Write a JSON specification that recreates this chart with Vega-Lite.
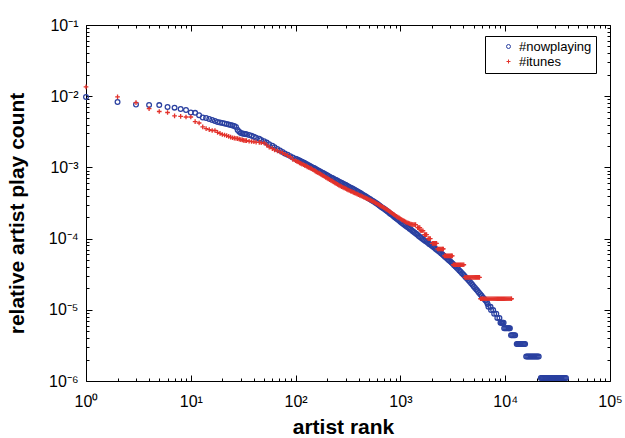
{
  "$schema": "https://vega.github.io/schema/vega-lite/v6.json",
  "autosize": {"type": "none"},
  "width": 524,
  "height": 356,
  "padding": {"left": 86, "top": 25, "right": 15, "bottom": 57},
  "background": "white",
  "config": {
    "view": {"stroke": "black", "strokeWidth": 1},
    "font": "Liberation Sans",
    "axis": {"grid": false, "domain": false, "tickColor": "black", "tickWidth": 1, "labelColor": "black", "labelFont": "Liberation Sans", "labelFontSize": 16, "titleColor": "black", "titleFont": "Liberation Sans", "titleFontSize": 21, "titleFontWeight": "bold", "labelOverlap": false, "labelFlush": false, "labelBound": false}
  },
  "datasets": {
    "pts": [
      {"series":"#nowplaying","rank":1,"share":0.00975},{"series":"#nowplaying","rank":2,"share":0.0083},{"series":"#nowplaying","rank":3,"share":0.00764},{"series":"#nowplaying","rank":4,"share":0.00752},{"series":"#nowplaying","rank":5,"share":0.0075},{"series":"#nowplaying","rank":6,"share":0.00705},{"series":"#nowplaying","rank":7,"share":0.0069},{"series":"#nowplaying","rank":8,"share":0.0066},{"series":"#nowplaying","rank":9,"share":0.0064},{"series":"#nowplaying","rank":10,"share":0.0059},
      {"series":"#nowplaying","rank":11,"share":0.00584},{"series":"#nowplaying","rank":12,"share":0.0054},{"series":"#nowplaying","rank":13,"share":0.00502},{"series":"#nowplaying","rank":14,"share":0.00495},{"series":"#nowplaying","rank":15,"share":0.00479},{"series":"#nowplaying","rank":16,"share":0.00464},{"series":"#nowplaying","rank":17,"share":0.0045},{"series":"#nowplaying","rank":18,"share":0.00435},{"series":"#nowplaying","rank":19,"share":0.00428},{"series":"#nowplaying","rank":20,"share":0.00421},
      {"series":"#nowplaying","rank":21,"share":0.00415},{"series":"#nowplaying","rank":22,"share":0.00408},{"series":"#nowplaying","rank":23,"share":0.00401},{"series":"#nowplaying","rank":24,"share":0.00395},{"series":"#nowplaying","rank":25,"share":0.00388},{"series":"#nowplaying","rank":26,"share":0.00382},{"series":"#nowplaying","rank":27,"share":0.0037},{"series":"#nowplaying","rank":28,"share":0.00335},{"series":"#nowplaying","rank":29,"share":0.00318},{"series":"#nowplaying","rank":30,"share":0.00304},
      {"series":"#nowplaying","rank":31,"share":0.003},{"series":"#nowplaying","rank":32,"share":0.00297},{"series":"#nowplaying","rank":33,"share":0.00294},
      {"series":"#nowplaying","rank":34,"share":0.00292},{"series":"#nowplaying","rank":36,"share":0.00285},{"series":"#nowplaying","rank":38,"share":0.00278},{"series":"#nowplaying","rank":40,"share":0.0027},{"series":"#nowplaying","rank":42,"share":0.00261},{"series":"#nowplaying","rank":45,"share":0.00252},{"series":"#nowplaying","rank":47,"share":0.00243},{"series":"#nowplaying","rank":50,"share":0.00233},{"series":"#nowplaying","rank":53,"share":0.00223},{"series":"#nowplaying","rank":56,"share":0.00212},
      {"series":"#nowplaying","rank":60,"share":0.00202},{"series":"#nowplaying","rank":63,"share":0.00192},{"series":"#nowplaying","rank":67,"share":0.00182},{"series":"#nowplaying","rank":71,"share":0.00173},{"series":"#nowplaying","rank":75,"share":0.00165},{"series":"#nowplaying","rank":79,"share":0.00157},{"series":"#nowplaying","rank":84,"share":0.0015},{"series":"#nowplaying","rank":89,"share":0.00144},{"series":"#nowplaying","rank":94,"share":0.00138},{"series":"#nowplaying","rank":100,"share":0.00132},
      {"series":"#nowplaying","rank":106,"share":0.00127},{"series":"#nowplaying","rank":112,"share":0.00122},{"series":"#nowplaying","rank":119,"share":0.00117},{"series":"#nowplaying","rank":126,"share":0.00112},{"series":"#nowplaying","rank":133,"share":0.00107},{"series":"#nowplaying","rank":141,"share":0.00102},{"series":"#nowplaying","rank":150,"share":0.000977},{"series":"#nowplaying","rank":158,"share":0.000933},{"series":"#nowplaying","rank":168,"share":0.000891},{"series":"#nowplaying","rank":178,"share":0.000851},
      {"series":"#nowplaying","rank":188,"share":0.000813},{"series":"#nowplaying","rank":200,"share":0.000776},{"series":"#nowplaying","rank":211,"share":0.000741},{"series":"#nowplaying","rank":224,"share":0.000708},{"series":"#nowplaying","rank":237,"share":0.000678},{"series":"#nowplaying","rank":251,"share":0.000649},{"series":"#nowplaying","rank":266,"share":0.000621},{"series":"#nowplaying","rank":282,"share":0.000594},{"series":"#nowplaying","rank":299,"share":0.000569},{"series":"#nowplaying","rank":316,"share":0.000545},
      {"series":"#nowplaying","rank":335,"share":0.00052},{"series":"#nowplaying","rank":355,"share":0.000497},{"series":"#nowplaying","rank":376,"share":0.000473},{"series":"#nowplaying","rank":398,"share":0.000451},{"series":"#nowplaying","rank":422,"share":0.000429},{"series":"#nowplaying","rank":447,"share":0.000407},{"series":"#nowplaying","rank":473,"share":0.000386},{"series":"#nowplaying","rank":501,"share":0.000366},{"series":"#nowplaying","rank":531,"share":0.000347},{"series":"#nowplaying","rank":562,"share":0.000328},
      {"series":"#nowplaying","rank":596,"share":0.00031},{"series":"#nowplaying","rank":631,"share":0.000292},{"series":"#nowplaying","rank":668,"share":0.000274},{"series":"#nowplaying","rank":708,"share":0.000258},{"series":"#nowplaying","rank":750,"share":0.000242},{"series":"#nowplaying","rank":794,"share":0.000226},{"series":"#nowplaying","rank":841,"share":0.000212},{"series":"#nowplaying","rank":891,"share":0.000198},{"series":"#nowplaying","rank":944,"share":0.000185},{"series":"#nowplaying","rank":1000,"share":0.000173},
      {"series":"#nowplaying","rank":1059,"share":0.000162},{"series":"#nowplaying","rank":1122,"share":0.000152},{"series":"#nowplaying","rank":1189,"share":0.000143},{"series":"#nowplaying","rank":1259,"share":0.000134},{"series":"#nowplaying","rank":1334,"share":0.000125},{"series":"#nowplaying","rank":1413,"share":0.000117},{"series":"#nowplaying","rank":1496,"share":0.000109},{"series":"#nowplaying","rank":1585,"share":0.000102},{"series":"#nowplaying","rank":1679,"share":0.0000959},{"series":"#nowplaying","rank":1778,"share":0.00009},
      {"series":"#nowplaying","rank":1884,"share":0.0000843},{"series":"#nowplaying","rank":1995,"share":0.0000791},{"series":"#nowplaying","rank":2113,"share":0.0000741},{"series":"#nowplaying","rank":2239,"share":0.0000692},{"series":"#nowplaying","rank":2371,"share":0.0000646},{"series":"#nowplaying","rank":2512,"share":0.0000601},{"series":"#nowplaying","rank":2661,"share":0.0000558},{"series":"#nowplaying","rank":2818,"share":0.0000518},{"series":"#nowplaying","rank":2985,"share":0.0000479},{"series":"#nowplaying","rank":3162,"share":0.0000442},
      {"series":"#nowplaying","rank":3350,"share":0.0000406},{"series":"#nowplaying","rank":3548,"share":0.0000373},{"series":"#nowplaying","rank":3758,"share":0.0000342},{"series":"#nowplaying","rank":3981,"share":0.0000313},{"series":"#nowplaying","rank":4217,"share":0.0000285},{"series":"#nowplaying","rank":4467,"share":0.0000259},{"series":"#nowplaying","rank":4732,"share":0.0000236},{"series":"#nowplaying","rank":5012,"share":0.0000213},{"series":"#nowplaying","rank":5309,"share":0.0000193},{"series":"#nowplaying","rank":5623,"share":0.0000174},
      {"series":"#nowplaying","rank":5957,"share":0.0000157},{"series":"#nowplaying","rank":6310,"share":0.0000142},{"series":"#nowplaying","rank":6683,"share":0.0000129},
      {"series":"#nowplaying","rank":103,"share":0.0013},{"series":"#nowplaying","rank":109,"share":0.00125},{"series":"#nowplaying","rank":115,"share":0.0012},{"series":"#nowplaying","rank":122,"share":0.00115},{"series":"#nowplaying","rank":129,"share":0.0011},{"series":"#nowplaying","rank":137,"share":0.00105},{"series":"#nowplaying","rank":145,"share":0.000999},{"series":"#nowplaying","rank":154,"share":0.000955},{"series":"#nowplaying","rank":163,"share":0.000912},{"series":"#nowplaying","rank":173,"share":0.000871},
      {"series":"#nowplaying","rank":183,"share":0.000832},{"series":"#nowplaying","rank":194,"share":0.000794},{"series":"#nowplaying","rank":205,"share":0.000758},{"series":"#nowplaying","rank":217,"share":0.000724},{"series":"#nowplaying","rank":230,"share":0.000693},{"series":"#nowplaying","rank":244,"share":0.000663},{"series":"#nowplaying","rank":258,"share":0.000635},{"series":"#nowplaying","rank":274,"share":0.000607},{"series":"#nowplaying","rank":290,"share":0.000581},{"series":"#nowplaying","rank":307,"share":0.000557},
      {"series":"#nowplaying","rank":325,"share":0.000532},{"series":"#nowplaying","rank":345,"share":0.000508},{"series":"#nowplaying","rank":365,"share":0.000485},{"series":"#nowplaying","rank":387,"share":0.000462},{"series":"#nowplaying","rank":410,"share":0.00044},{"series":"#nowplaying","rank":434,"share":0.000418},{"series":"#nowplaying","rank":460,"share":0.000396},{"series":"#nowplaying","rank":487,"share":0.000376},{"series":"#nowplaying","rank":516,"share":0.000356},{"series":"#nowplaying","rank":546,"share":0.000337},
      {"series":"#nowplaying","rank":579,"share":0.000319},{"series":"#nowplaying","rank":613,"share":0.000301},{"series":"#nowplaying","rank":649,"share":0.000283},{"series":"#nowplaying","rank":688,"share":0.000266},{"series":"#nowplaying","rank":729,"share":0.00025},{"series":"#nowplaying","rank":772,"share":0.000234},{"series":"#nowplaying","rank":817,"share":0.000219},{"series":"#nowplaying","rank":866,"share":0.000205},{"series":"#nowplaying","rank":917,"share":0.000191},{"series":"#nowplaying","rank":972,"share":0.000179},
      {"series":"#nowplaying","rank":1029,"share":0.000167},{"series":"#nowplaying","rank":1090,"share":0.000157},{"series":"#nowplaying","rank":1155,"share":0.000147},{"series":"#nowplaying","rank":1223,"share":0.000138},{"series":"#nowplaying","rank":1296,"share":0.000129},{"series":"#nowplaying","rank":1373,"share":0.000121},{"series":"#nowplaying","rank":1454,"share":0.000113},{"series":"#nowplaying","rank":1540,"share":0.000105},{"series":"#nowplaying","rank":1631,"share":0.0000989},{"series":"#nowplaying","rank":1728,"share":0.0000929},
      {"series":"#nowplaying","rank":1830,"share":0.0000871},{"series":"#nowplaying","rank":1939,"share":0.0000817},{"series":"#nowplaying","rank":2053,"share":0.0000766},{"series":"#nowplaying","rank":2175,"share":0.0000716},{"series":"#nowplaying","rank":2304,"share":0.0000669},{"series":"#nowplaying","rank":2440,"share":0.0000623},{"series":"#nowplaying","rank":2585,"share":0.0000579},{"series":"#nowplaying","rank":2738,"share":0.0000538},{"series":"#nowplaying","rank":2901,"share":0.0000498},{"series":"#nowplaying","rank":3072,"share":0.000046},
      {"series":"#nowplaying","rank":3255,"share":0.0000424},{"series":"#nowplaying","rank":3448,"share":0.0000389},{"series":"#nowplaying","rank":3652,"share":0.0000357},{"series":"#nowplaying","rank":3868,"share":0.0000327},{"series":"#nowplaying","rank":4097,"share":0.0000299},{"series":"#nowplaying","rank":4340,"share":0.0000272},{"series":"#nowplaying","rank":4598,"share":0.0000247},{"series":"#nowplaying","rank":4870,"share":0.0000224},{"series":"#nowplaying","rank":5158,"share":0.0000203},{"series":"#nowplaying","rank":5464,"share":0.0000183},
      {"series":"#nowplaying","rank":5788,"share":0.0000165},{"series":"#nowplaying","rank":6131,"share":0.0000149},{"series":"#nowplaying","rank":6494,"share":0.0000135},{"series":"#nowplaying","rank":6800,"share":0.0000121},
      {"series":"#nowplaying","rank":6918,"share":0.000011},{"series":"#nowplaying","rank":7244,"share":0.000011},
      {"series":"#nowplaying","rank":7328,"share":0.0000099},{"series":"#nowplaying","rank":7674,"share":0.0000099},
      {"series":"#nowplaying","rank":7852,"share":0.0000088},{"series":"#nowplaying","rank":8222,"share":0.0000088},
      {"series":"#nowplaying","rank":8414,"share":0.0000077},{"series":"#nowplaying","rank":8810,"share":0.0000077},
      {"series":"#nowplaying","rank":9016,"share":0.0000066},{"series":"#nowplaying","rank":9162,"share":0.0000066},{"series":"#nowplaying","rank":9333,"share":0.0000066},{"series":"#nowplaying","rank":9484,"share":0.0000066},{"series":"#nowplaying","rank":9660,"share":0.0000066},
      {"series":"#nowplaying","rank":9772,"share":0.0000055},{"series":"#nowplaying","rank":10000,"share":0.0000055},{"series":"#nowplaying","rank":10233,"share":0.0000055},{"series":"#nowplaying","rank":10471,"share":0.0000055},{"series":"#nowplaying","rank":10715,"share":0.0000055},{"series":"#nowplaying","rank":10889,"share":0.0000055},{"series":"#nowplaying","rank":11092,"share":0.0000055},
      {"series":"#nowplaying","rank":11350,"share":0.0000044},{"series":"#nowplaying","rank":11614,"share":0.0000044},{"series":"#nowplaying","rank":11885,"share":0.0000044},{"series":"#nowplaying","rank":12162,"share":0.0000044},{"series":"#nowplaying","rank":12445,"share":0.0000044},
      {"series":"#nowplaying","rank":12882,"share":0.0000033},{"series":"#nowplaying","rank":13183,"share":0.0000033},{"series":"#nowplaying","rank":13490,"share":0.0000033},{"series":"#nowplaying","rank":13804,"share":0.0000033},{"series":"#nowplaying","rank":14125,"share":0.0000033},{"series":"#nowplaying","rank":14454,"share":0.0000033},{"series":"#nowplaying","rank":14791,"share":0.0000033},{"series":"#nowplaying","rank":15136,"share":0.0000033},{"series":"#nowplaying","rank":15488,"share":0.0000033},
      {"series":"#nowplaying","rank":15849,"share":0.0000022},{"series":"#nowplaying","rank":16218,"share":0.0000022},{"series":"#nowplaying","rank":16596,"share":0.0000022},{"series":"#nowplaying","rank":16982,"share":0.0000022},{"series":"#nowplaying","rank":17378,"share":0.0000022},{"series":"#nowplaying","rank":17783,"share":0.0000022},{"series":"#nowplaying","rank":18197,"share":0.0000022},{"series":"#nowplaying","rank":18621,"share":0.0000022},{"series":"#nowplaying","rank":19055,"share":0.0000022},{"series":"#nowplaying","rank":19498,"share":0.0000022},{"series":"#nowplaying","rank":19953,"share":0.0000022},{"series":"#nowplaying","rank":20417,"share":0.0000022},{"series":"#nowplaying","rank":20893,"share":0.0000022},
      {"series":"#nowplaying","rank":21878,"share":0.0000011},{"series":"#nowplaying","rank":22387,"share":0.0000011},{"series":"#nowplaying","rank":22909,"share":0.0000011},{"series":"#nowplaying","rank":23442,"share":0.0000011},{"series":"#nowplaying","rank":23988,"share":0.0000011},{"series":"#nowplaying","rank":24547,"share":0.0000011},{"series":"#nowplaying","rank":25119,"share":0.0000011},{"series":"#nowplaying","rank":25704,"share":0.0000011},{"series":"#nowplaying","rank":26303,"share":0.0000011},{"series":"#nowplaying","rank":26915,"share":0.0000011},{"series":"#nowplaying","rank":27542,"share":0.0000011},{"series":"#nowplaying","rank":28184,"share":0.0000011},{"series":"#nowplaying","rank":28840,"share":0.0000011},{"series":"#nowplaying","rank":29512,"share":0.0000011},{"series":"#nowplaying","rank":30200,"share":0.0000011},{"series":"#nowplaying","rank":30903,"share":0.0000011},{"series":"#nowplaying","rank":31623,"share":0.0000011},{"series":"#nowplaying","rank":32359,"share":0.0000011},{"series":"#nowplaying","rank":33113,"share":0.0000011},{"series":"#nowplaying","rank":33884,"share":0.0000011},{"series":"#nowplaying","rank":34674,"share":0.0000011},{"series":"#nowplaying","rank":35481,"share":0.0000011},{"series":"#nowplaying","rank":36308,"share":0.0000011},{"series":"#nowplaying","rank":37154,"share":0.0000011},{"series":"#nowplaying","rank":38019,"share":0.0000011},

      {"series":"#itunes","rank":1,"share":0.0135},{"series":"#itunes","rank":2,"share":0.0098},{"series":"#itunes","rank":3,"share":0.0081},{"series":"#itunes","rank":4,"share":0.0067},{"series":"#itunes","rank":5,"share":0.0061},{"series":"#itunes","rank":6,"share":0.0059},{"series":"#itunes","rank":7,"share":0.0053},{"series":"#itunes","rank":8,"share":0.0052},{"series":"#itunes","rank":9,"share":0.0051},{"series":"#itunes","rank":10,"share":0.0051},
      {"series":"#itunes","rank":11,"share":0.0044},{"series":"#itunes","rank":12,"share":0.0042},{"series":"#itunes","rank":13,"share":0.0037},{"series":"#itunes","rank":14,"share":0.0035},{"series":"#itunes","rank":15,"share":0.0034},{"series":"#itunes","rank":16,"share":0.0033},{"series":"#itunes","rank":17,"share":0.0033},{"series":"#itunes","rank":18,"share":0.0031},{"series":"#itunes","rank":19,"share":0.003},{"series":"#itunes","rank":20,"share":0.0029},
      {"series":"#itunes","rank":21,"share":0.00285},{"series":"#itunes","rank":22,"share":0.0028},{"series":"#itunes","rank":23,"share":0.00272},{"series":"#itunes","rank":24,"share":0.00266},{"series":"#itunes","rank":25,"share":0.00261},{"series":"#itunes","rank":26,"share":0.00258},{"series":"#itunes","rank":27,"share":0.00255},{"series":"#itunes","rank":28,"share":0.00253},{"series":"#itunes","rank":29,"share":0.0025},{"series":"#itunes","rank":30,"share":0.00245},
      {"series":"#itunes","rank":31,"share":0.00243},{"series":"#itunes","rank":32,"share":0.0024},{"series":"#itunes","rank":33,"share":0.00238},
      {"series":"#itunes","rank":34,"share":0.00237},{"series":"#itunes","rank":36,"share":0.00233},{"series":"#itunes","rank":38,"share":0.00231},{"series":"#itunes","rank":40,"share":0.00229},{"series":"#itunes","rank":42,"share":0.00227},{"series":"#itunes","rank":45,"share":0.00224},{"series":"#itunes","rank":47,"share":0.00222},{"series":"#itunes","rank":50,"share":0.0022},{"series":"#itunes","rank":53,"share":0.00205},{"series":"#itunes","rank":56,"share":0.00193},
      {"series":"#itunes","rank":60,"share":0.00183},{"series":"#itunes","rank":63,"share":0.00176},{"series":"#itunes","rank":67,"share":0.00171},{"series":"#itunes","rank":71,"share":0.00165},{"series":"#itunes","rank":75,"share":0.0016},{"series":"#itunes","rank":79,"share":0.00153},{"series":"#itunes","rank":84,"share":0.00146},{"series":"#itunes","rank":89,"share":0.0014},{"series":"#itunes","rank":94,"share":0.0013},{"series":"#itunes","rank":100,"share":0.00124},
      {"series":"#itunes","rank":106,"share":0.00119},{"series":"#itunes","rank":112,"share":0.00114},{"series":"#itunes","rank":119,"share":0.00109},{"series":"#itunes","rank":126,"share":0.00105},{"series":"#itunes","rank":133,"share":0.001},{"series":"#itunes","rank":141,"share":0.000959},{"series":"#itunes","rank":150,"share":0.000912},{"series":"#itunes","rank":158,"share":0.000867},{"series":"#itunes","rank":168,"share":0.000824},{"series":"#itunes","rank":178,"share":0.000783},
      {"series":"#itunes","rank":188,"share":0.000745},{"series":"#itunes","rank":200,"share":0.000708},{"series":"#itunes","rank":211,"share":0.000673},{"series":"#itunes","rank":224,"share":0.00064},{"series":"#itunes","rank":237,"share":0.000608},{"series":"#itunes","rank":251,"share":0.000578},{"series":"#itunes","rank":266,"share":0.00055},{"series":"#itunes","rank":282,"share":0.000526},{"series":"#itunes","rank":299,"share":0.000505},{"series":"#itunes","rank":316,"share":0.000484},
      {"series":"#itunes","rank":335,"share":0.000465},{"series":"#itunes","rank":355,"share":0.000447},{"series":"#itunes","rank":376,"share":0.00043},{"series":"#itunes","rank":398,"share":0.000413},{"series":"#itunes","rank":422,"share":0.000398},{"series":"#itunes","rank":447,"share":0.000383},{"series":"#itunes","rank":473,"share":0.000368},{"series":"#itunes","rank":501,"share":0.000354},{"series":"#itunes","rank":531,"share":0.00034},{"series":"#itunes","rank":562,"share":0.000326},
      {"series":"#itunes","rank":596,"share":0.000311},{"series":"#itunes","rank":631,"share":0.000296},{"series":"#itunes","rank":668,"share":0.000282},{"series":"#itunes","rank":708,"share":0.000267},{"series":"#itunes","rank":750,"share":0.000253},{"series":"#itunes","rank":794,"share":0.000239},{"series":"#itunes","rank":841,"share":0.000225},{"series":"#itunes","rank":891,"share":0.000211},{"series":"#itunes","rank":944,"share":0.0002},{"series":"#itunes","rank":1000,"share":0.00019},
      {"series":"#itunes","rank":1059,"share":0.00018},{"series":"#itunes","rank":1122,"share":0.000172},{"series":"#itunes","rank":1189,"share":0.000165},{"series":"#itunes","rank":1259,"share":0.00016},
      {"series":"#itunes","rank":103,"share":0.00121},{"series":"#itunes","rank":109,"share":0.00116},{"series":"#itunes","rank":115,"share":0.00111},{"series":"#itunes","rank":122,"share":0.00107},{"series":"#itunes","rank":129,"share":0.00102},{"series":"#itunes","rank":137,"share":0.00098},{"series":"#itunes","rank":145,"share":0.000935},{"series":"#itunes","rank":154,"share":0.000889},{"series":"#itunes","rank":163,"share":0.000845},{"series":"#itunes","rank":173,"share":0.000803},
      {"series":"#itunes","rank":183,"share":0.000764},{"series":"#itunes","rank":194,"share":0.000726},{"series":"#itunes","rank":205,"share":0.00069},{"series":"#itunes","rank":217,"share":0.000656},{"series":"#itunes","rank":230,"share":0.000624},{"series":"#itunes","rank":244,"share":0.000593},{"series":"#itunes","rank":258,"share":0.000564},{"series":"#itunes","rank":274,"share":0.000538},{"series":"#itunes","rank":290,"share":0.000515},{"series":"#itunes","rank":307,"share":0.000494},
      {"series":"#itunes","rank":325,"share":0.000474},{"series":"#itunes","rank":345,"share":0.000456},{"series":"#itunes","rank":365,"share":0.000438},{"series":"#itunes","rank":387,"share":0.000421},{"series":"#itunes","rank":410,"share":0.000405},{"series":"#itunes","rank":434,"share":0.00039},{"series":"#itunes","rank":460,"share":0.000375},{"series":"#itunes","rank":487,"share":0.000361},{"series":"#itunes","rank":516,"share":0.000347},{"series":"#itunes","rank":546,"share":0.000333},
      {"series":"#itunes","rank":579,"share":0.000318},{"series":"#itunes","rank":613,"share":0.000303},{"series":"#itunes","rank":649,"share":0.000289},{"series":"#itunes","rank":688,"share":0.000274},{"series":"#itunes","rank":729,"share":0.00026},{"series":"#itunes","rank":772,"share":0.000246},{"series":"#itunes","rank":817,"share":0.000232},{"series":"#itunes","rank":866,"share":0.000218},{"series":"#itunes","rank":917,"share":0.000205},{"series":"#itunes","rank":972,"share":0.000195},
      {"series":"#itunes","rank":1029,"share":0.000185},{"series":"#itunes","rank":1090,"share":0.000176},{"series":"#itunes","rank":1155,"share":0.000168},{"series":"#itunes","rank":1223,"share":0.000162},{"series":"#itunes","rank":1288,"share":0.000158},
      {"series":"#itunes","rank":1318,"share":0.000157},{"series":"#itunes","rank":1355,"share":0.000157},{"series":"#itunes","rank":1396,"share":0.000157},
      {"series":"#itunes","rank":1462,"share":0.000143},{"series":"#itunes","rank":1496,"share":0.000143},{"series":"#itunes","rank":1531,"share":0.000143},
      {"series":"#itunes","rank":1567,"share":0.000129},{"series":"#itunes","rank":1603,"share":0.000129},{"series":"#itunes","rank":1641,"share":0.000129},
      {"series":"#itunes","rank":1698,"share":0.000114},{"series":"#itunes","rank":1738,"share":0.000114},{"series":"#itunes","rank":1778,"share":0.000114},
      {"series":"#itunes","rank":1841,"share":0.0001},{"series":"#itunes","rank":1884,"share":0.0001},{"series":"#itunes","rank":1928,"share":0.0001},
      {"series":"#itunes","rank":2018,"share":0.0000858},{"series":"#itunes","rank":2065,"share":0.0000858},{"series":"#itunes","rank":2113,"share":0.0000858},{"series":"#itunes","rank":2163,"share":0.0000858},{"series":"#itunes","rank":2213,"share":0.0000858},
      {"series":"#itunes","rank":2265,"share":0.0000715},{"series":"#itunes","rank":2317,"share":0.0000715},{"series":"#itunes","rank":2371,"share":0.0000715},{"series":"#itunes","rank":2427,"share":0.0000715},{"series":"#itunes","rank":2483,"share":0.0000715},{"series":"#itunes","rank":2529,"share":0.0000715},{"series":"#itunes","rank":2570,"share":0.0000715},
      {"series":"#itunes","rank":2630,"share":0.0000572},{"series":"#itunes","rank":2692,"share":0.0000572},{"series":"#itunes","rank":2754,"share":0.0000572},{"series":"#itunes","rank":2818,"share":0.0000572},{"series":"#itunes","rank":2884,"share":0.0000572},{"series":"#itunes","rank":2951,"share":0.0000572},{"series":"#itunes","rank":3020,"share":0.0000572},{"series":"#itunes","rank":3069,"share":0.0000572},{"series":"#itunes","rank":3126,"share":0.0000572},
      {"series":"#itunes","rank":3199,"share":0.0000429},{"series":"#itunes","rank":3273,"share":0.0000429},{"series":"#itunes","rank":3350,"share":0.0000429},{"series":"#itunes","rank":3428,"share":0.0000429},{"series":"#itunes","rank":3508,"share":0.0000429},{"series":"#itunes","rank":3589,"share":0.0000429},{"series":"#itunes","rank":3673,"share":0.0000429},{"series":"#itunes","rank":3758,"share":0.0000429},{"series":"#itunes","rank":3846,"share":0.0000429},{"series":"#itunes","rank":3936,"share":0.0000429},{"series":"#itunes","rank":4027,"share":0.0000429},
      {"series":"#itunes","rank":4121,"share":0.0000286},{"series":"#itunes","rank":4217,"share":0.0000286},{"series":"#itunes","rank":4315,"share":0.0000286},{"series":"#itunes","rank":4416,"share":0.0000286},{"series":"#itunes","rank":4519,"share":0.0000286},{"series":"#itunes","rank":4624,"share":0.0000286},{"series":"#itunes","rank":4732,"share":0.0000286},{"series":"#itunes","rank":4842,"share":0.0000286},{"series":"#itunes","rank":4955,"share":0.0000286},{"series":"#itunes","rank":5070,"share":0.0000286},{"series":"#itunes","rank":5188,"share":0.0000286},{"series":"#itunes","rank":5309,"share":0.0000286},{"series":"#itunes","rank":5433,"share":0.0000286},{"series":"#itunes","rank":5559,"share":0.0000286},{"series":"#itunes","rank":5689,"share":0.0000286},
      {"series":"#itunes","rank":5821,"share":0.0000143},{"series":"#itunes","rank":5957,"share":0.0000143},{"series":"#itunes","rank":6095,"share":0.0000143},{"series":"#itunes","rank":6237,"share":0.0000143},{"series":"#itunes","rank":6383,"share":0.0000143},{"series":"#itunes","rank":6531,"share":0.0000143},{"series":"#itunes","rank":6683,"share":0.0000143},{"series":"#itunes","rank":6839,"share":0.0000143},{"series":"#itunes","rank":6998,"share":0.0000143},{"series":"#itunes","rank":7161,"share":0.0000143},{"series":"#itunes","rank":7328,"share":0.0000143},{"series":"#itunes","rank":7499,"share":0.0000143},{"series":"#itunes","rank":7674,"share":0.0000143},{"series":"#itunes","rank":7852,"share":0.0000143},{"series":"#itunes","rank":8035,"share":0.0000143},{"series":"#itunes","rank":8222,"share":0.0000143},
      {"series":"#itunes","rank":8414,"share":0.0000143},{"series":"#itunes","rank":8610,"share":0.0000143},{"series":"#itunes","rank":8810,"share":0.0000143},{"series":"#itunes","rank":9016,"share":0.0000143},{"series":"#itunes","rank":9226,"share":0.0000143},{"series":"#itunes","rank":9441,"share":0.0000143},{"series":"#itunes","rank":9661,"share":0.0000143},{"series":"#itunes","rank":9886,"share":0.0000143},{"series":"#itunes","rank":10116,"share":0.0000143},{"series":"#itunes","rank":10351,"share":0.0000143},{"series":"#itunes","rank":10593,"share":0.0000143},{"series":"#itunes","rank":10839,"share":0.0000143},{"series":"#itunes","rank":11092,"share":0.0000143},{"series":"#itunes","rank":11350,"share":0.0000143},{"series":"#itunes","rank":11482,"share":0.0000143}
    ]
  },
  "data": {"name": "pts"},
  "layer": [
    {
      "mark": {"type": "point", "filled": false, "strokeWidth": 1.3, "size": 22, "opacity": 1},
      "encoding": {
        "x": {
          "field": "rank", "type": "quantitative",
          "scale": {"type": "log", "domain": [1, 100000], "nice": false},
          "axis": {
            "orient": "bottom",
            "values": [1,2,3,4,5,6,7,8,9,10,20,30,40,50,60,70,80,90,100,200,300,400,500,600,700,800,900,1000,2000,3000,4000,5000,6000,7000,8000,9000,10000,20000,30000,40000,50000,60000,70000,80000,90000,100000],
            "labelExpr": "datum.value == 1 ? '10⁰' : datum.value == 10 ? '10¹' : datum.value == 100 ? '10²' : datum.value == 1000 ? '10³' : datum.value == 10000 ? '10⁴' : datum.value == 100000 ? '10⁵' : ''",
            "tickSize": -6,
            "tickDash": {"condition": {"test": "indexof([1,10,100,1000,10000,100000], datum.value) >= 0", "value": [10, 0]}, "value": [3, 10]},
            "labelPadding": 18,
            "title": "artist rank",
            "titleX": 257,
            "titleY": 52,
            "titleBaseline": "alphabetic"
          }
        },
        "y": {
          "field": "share", "type": "quantitative",
          "scale": {"type": "log", "domain": [0.000001, 0.1], "nice": false},
          "axis": {
            "orient": "left",
            "values": [0.000001,0.000002,0.000003,0.000004,0.000005,0.000006,0.000007,0.000008,0.000009,0.00001,0.00002,0.00003,0.00004,0.00005,0.00006,0.00007,0.00008,0.00009,0.0001,0.0002,0.0003,0.0004,0.0005,0.0006,0.0007,0.0008,0.0009,0.001,0.002,0.003,0.004,0.005,0.006,0.007,0.008,0.009,0.01,0.02,0.03,0.04,0.05,0.06,0.07,0.08,0.09,0.1],
            "labelExpr": "datum.value == 0.1 ? '10⁻¹' : datum.value == 0.01 ? '10⁻²' : datum.value == 0.001 ? '10⁻³' : datum.value == 0.0001 ? '10⁻⁴' : datum.value == 0.00001 ? '10⁻⁵' : datum.value == 0.000001 ? '10⁻⁶' : ''",
            "tickSize": -6,
            "tickDash": {"condition": {"test": "indexof([0.000001,0.00001,0.0001,0.001,0.01,0.1], datum.value) >= 0", "value": [10, 0]}, "value": [3, 10]},
            "labelPadding": 14,
            "title": "relative artist play count",
            "titleX": -63,
            "titleY": 188,
            "titleBaseline": "alphabetic"
          }
        },
        "color": {
          "field": "series", "type": "nominal",
          "scale": {"domain": ["#nowplaying", "#itunes"], "range": ["#2a40a0", "#e3322b"]},
          "legend": {"title": null, "orient": "none", "legendX": 399, "legendY": 11, "strokeColor": "black", "fillColor": "white", "padding": 4, "rowPadding": 1, "symbolOffset": 13, "labelOffset": 4, "labelFontSize": 13, "labelFont": "Liberation Sans", "labelColor": "black", "symbolSize": 16, "symbolStrokeWidth": 1, "cornerRadius": 0}
        },
        "shape": {
          "field": "series", "type": "nominal",
          "scale": {"domain": ["#nowplaying", "#itunes"], "range": ["circle", "M-1,0H1M0,-1V1"]},
          "legend": {"title": null, "orient": "none", "legendX": 399, "legendY": 11, "strokeColor": "black", "fillColor": "white", "padding": 4, "rowPadding": 1, "symbolOffset": 13, "labelOffset": 4, "labelFontSize": 13, "labelFont": "Liberation Sans", "labelColor": "black", "symbolSize": 16, "symbolStrokeWidth": 1, "cornerRadius": 0}
        }
      }
    },
    {
      "transform": [{"filter": "false"}],
      "mark": {"type": "point", "opacity": 0},
      "encoding": {
        "x": {
          "field": "rank", "type": "quantitative",
          "scale": {"type": "log", "domain": [1, 100000], "nice": false},
          "axis": {
            "orient": "top",
            "values": [1,2,3,4,5,6,7,8,9,10,20,30,40,50,60,70,80,90,100,200,300,400,500,600,700,800,900,1000,2000,3000,4000,5000,6000,7000,8000,9000,10000,20000,30000,40000,50000,60000,70000,80000,90000,100000],
            "labels": false,
            "tickSize": -6,
            "tickDash": {"condition": {"test": "indexof([1,10,100,1000,10000,100000], datum.value) >= 0", "value": [10, 0]}, "value": [3, 10]},
            "title": null
          }
        },
        "y": {
          "field": "share", "type": "quantitative",
          "scale": {"type": "log", "domain": [0.000001, 0.1], "nice": false},
          "axis": {
            "orient": "right",
            "values": [0.000001,0.000002,0.000003,0.000004,0.000005,0.000006,0.000007,0.000008,0.000009,0.00001,0.00002,0.00003,0.00004,0.00005,0.00006,0.00007,0.00008,0.00009,0.0001,0.0002,0.0003,0.0004,0.0005,0.0006,0.0007,0.0008,0.0009,0.001,0.002,0.003,0.004,0.005,0.006,0.007,0.008,0.009,0.01,0.02,0.03,0.04,0.05,0.06,0.07,0.08,0.09,0.1],
            "labels": false,
            "tickSize": -6,
            "tickDash": {"condition": {"test": "indexof([0.000001,0.00001,0.0001,0.001,0.01,0.1], datum.value) >= 0", "value": [10, 0]}, "value": [3, 10]},
            "title": null
          }
        }
      }
    }
  ],
  "resolve": {"axis": {"x": "independent", "y": "independent"}}
}
